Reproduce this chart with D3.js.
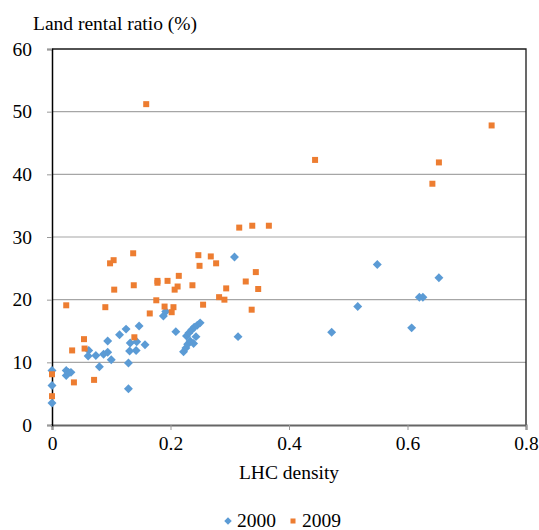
<!DOCTYPE html>
<html>
<head>
<meta charset="utf-8">
<script src="https://cdn.jsdelivr.net/npm/d3@7"></script>
<style>
  body { margin: 0; background: #fff; }
  svg text { font-family: "Liberation Serif", "Times New Roman", "DejaVu Serif", serif !important; fill: #000; }
</style>
</head>
<body>
<div id="chart"></div>
<script>
// LHC density (x) and land rental ratio % (y)
const x2000 = [0, 0, 0, 0.024, 0.024, 0.028, 0.032, 0.062, 0.061, 0.074, 0.080, 0.087, 0.094, 0.094, 0.100,
    0.114, 0.125, 0.129, 0.129, 0.131, 0.132, 0.142, 0.143, 0.147, 0.157, 0.188, 0.192, 0.209,
    0.222, 0.226, 0.229, 0.233, 0.239, 0.243, 0.227, 0.231, 0.236, 0.240, 0.245, 0.250,
    0.308, 0.314, 0.472, 0.516, 0.549, 0.607, 0.620, 0.626, 0.653];
const y2000 = [8.7, 6.3, 3.5, 8.7, 7.9, 8.4, 8.4, 11.9, 11.0, 11.1, 9.3, 11.3, 11.6, 13.4, 10.4,
    14.4, 15.3, 9.9, 5.8, 11.8, 13.1, 11.9, 13.3, 15.8, 12.8, 17.4, 18.1, 14.9,
    11.7, 12.3, 12.9, 13.4, 13.0, 14.1, 14.2, 14.7, 15.2, 15.6, 15.9, 16.3,
    26.8, 14.1, 14.8, 18.9, 25.6, 15.5, 20.4, 20.4, 23.5];

const x2009 = [0, 0, 0.024, 0.034, 0.037, 0.054, 0.055, 0.071, 0.090, 0.098, 0.104, 0.105, 0.137, 0.138, 0.139,
    0.159, 0.165, 0.176, 0.178, 0.178, 0.190, 0.195, 0.202, 0.205, 0.207, 0.212, 0.214, 0.237, 0.247, 0.249,
    0.255, 0.268, 0.277, 0.282, 0.291, 0.294, 0.316, 0.327, 0.337, 0.338, 0.344, 0.348, 0.366,
    0.444, 0.642, 0.653, 0.742];
const y2009 = [8.1, 4.6, 19.1, 11.9, 6.8, 13.7, 12.2, 7.2, 18.8, 25.8, 26.3, 21.6, 27.4, 22.3, 14.0,
    51.2, 17.8, 19.9, 23.0, 22.7, 18.9, 23.0, 18.0, 18.8, 21.6, 22.1, 23.8, 22.3, 27.1, 25.4,
    19.2, 26.9, 25.8, 20.4, 20.0, 21.8, 31.5, 22.9, 18.4, 31.8, 24.4, 21.7, 31.8,
    42.3, 38.5, 41.9, 47.8];

const xTicks = [0, 0.2, 0.4, 0.6, 0.8];
const yTicks = [0, 10, 20, 30, 40, 50, 60];

// diamonds are squares turned by 45 degrees (Excel style)
const series = [
    { name: "2000", xs: x2000, ys: y2000, color: "#5B9BD5", size: 40, rotate: 45 },
    { name: "2009", xs: x2009, ys: y2009, color: "#ED7D31", size: 36, rotate: 0 }
];

const W = 539, H = 530;
const margin = { top: 49, right: 13, bottom: 105, left: 52 };
const width = W - margin.left - margin.right;
const height = H - margin.top - margin.bottom;
const serif = "Liberation Serif";
const fontSize = "19.5px";

const svg = d3.select("#chart").append("svg")
    .attr("width", W)
    .attr("height", H)
    .attr("font-family", serif);

const g = svg.append("g")
    .attr("transform", `translate(${margin.left},${margin.top})`);

const x = d3.scaleLinear().domain([0, 0.8]).range([0, width]);
const y = d3.scaleLinear().domain([0, 60]).range([height, 0]);

// Gridlines
g.selectAll(".grid")
    .data(yTicks.filter(t => t > 0 && t < 60))
    .enter()
    .append("line")
    .attr("x1", 0).attr("x2", width)
    .attr("y1", d => y(d)).attr("y2", d => y(d))
    .style("stroke", "#a6a6a6")
    .style("stroke-width", 1.2);

// Top and right border
g.append("path")
    .attr("d", `M0,${y(60)}H${width}V${height}`)
    .style("fill", "none")
    .style("stroke", "#1a1a1a")
    .style("stroke-width", 1.3);

// X axis
const xAxis = g.append("g")
    .attr("transform", `translate(0,${height})`)
    .call(d3.axisBottom(x).tickValues(xTicks).tickFormat(d => d === 0 ? "0" : d3.format(".1f")(d)).tickSize(5).tickPadding(6))
    .attr("font-family", serif);
xAxis.select(".domain").style("stroke", "#666").style("stroke-width", 2);
xAxis.selectAll(".tick line").style("stroke", "#999");
xAxis.selectAll("text").style("font-size", fontSize);

// Y axis
const yAxis = g.append("g")
    .call(d3.axisLeft(y).tickValues(yTicks).tickSize(5).tickPadding(15))
    .attr("font-family", serif);
yAxis.select(".domain").style("stroke", "#000").style("stroke-width", 1.5);
yAxis.selectAll(".tick line").style("stroke", "#999");
yAxis.selectAll("text").style("font-size", fontSize);

// Axis titles
svg.append("text")
    .attr("x", 33).attr("y", 30)
    .style("font-size", fontSize)
    .text("Land rental ratio (%)");

svg.append("text")
    .attr("x", margin.left + x(0.4)).attr("y", 479)
    .style("text-anchor", "middle")
    .style("font-size", fontSize)
    .text("LHC density");

// Points
series.forEach(s => {
    const pts = s.xs.map((v, i) => [v, s.ys[i]]);
    g.selectAll(".pt-" + s.name)
        .data(pts)
        .enter()
        .append("path")
        .attr("d", d3.symbol().type(d3.symbolSquare).size(s.size))
        .attr("transform", d => `translate(${x(d[0])},${y(d[1])}) rotate(${s.rotate})`)
        .style("fill", s.color);
});

// Legend
const legend = svg.append("g").attr("transform", "translate(228,521)");
series.forEach((s, i) => {
    const item = legend.append("g").attr("transform", `translate(${i * 65},0)`);
    item.append("path")
        .attr("d", d3.symbol().type(d3.symbolSquare).size(s.size * 0.7))
        .attr("transform", `rotate(${s.rotate})`)
        .style("fill", s.color);
    item.append("text")
        .attr("x", 9).attr("y", 6)
        .style("font-size", fontSize)
        .text(s.name);
});
</script>
</body>
</html>
